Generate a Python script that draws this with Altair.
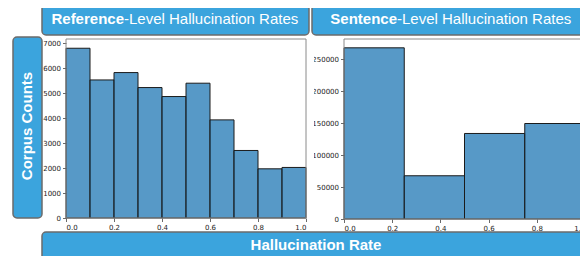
import altair as alt
import pandas as pd

# ---- data ----
ref_edges = [0.0, 0.1, 0.2, 0.3, 0.4, 0.5, 0.6, 0.7, 0.8, 0.9, 1.0]
ref_counts = [6800, 5530, 5825, 5225, 4865, 5400, 3930, 2705, 1970, 2025]
sent_edges = [0.0, 0.25, 0.5, 0.75, 1.0]
sent_counts = [268000, 67700, 133900, 149500]
x_ticks = [0.0, 0.2, 0.4, 0.6, 0.8, 1.0]
ref_y_ticks = [0, 1000, 2000, 3000, 4000, 5000, 6000, 7000]
sent_y_ticks = [0, 50000, 100000, 150000, 200000, 250000]

W, H = 572, 248
BOX_FILL = "#3ba4dd"
BOX_STROKE = "#6b6b6b"
TITLE_FONT = "Liberation Sans"
TICK_FONT = "DejaVu Sans"

ref_df = pd.DataFrame({"start": ref_edges[:-1], "end": ref_edges[1:], "count": ref_counts})
sent_df = pd.DataFrame({"start": sent_edges[:-1], "end": sent_edges[1:], "count": sent_counts})
one = pd.DataFrame({"k": [0]})


def axis_common(**kw):
    return alt.Axis(
        domain=False, grid=False, ticks=True, tickSize=3.5, tickColor="#444",
        tickWidth=0.8, labelFont=TICK_FONT, labelFontSize=7, labelColor="#222",
        labelPadding=2, title=None, **kw)


def hist(df, xr, yr, ydom, yticks):
    return alt.Chart(df).mark_bar(
        fill="#1f77b4", fillOpacity=0.75, stroke="#1b1b1b", strokeWidth=1
    ).encode(
        x=alt.X("start:Q",
                scale=alt.Scale(domain=[0, 1], range=xr, nice=False, zero=False,
                                padding=0),
                axis=axis_common(orient="bottom", values=x_ticks, format=".1f",
                                 offset=yr[0] - H)),
        x2="end:Q",
        y=alt.Y("count:Q",
                scale=alt.Scale(domain=ydom, range=yr, nice=False, padding=0),
                axis=axis_common(orient="left", values=yticks, format="d",
                                 offset=-xr[0])),
        y2=alt.datum(0),
    )


def box(x, x2, y, y2):
    return alt.Chart(one).mark_rect(
        fill=BOX_FILL, stroke=BOX_STROKE, strokeWidth=1.5, cornerRadius=4
    ).encode(x=alt.value(x), x2=alt.value(x2), y=alt.value(y), y2=alt.value(y2))


def frame(x, x2, y, y2):
    return alt.Chart(one).mark_rect(
        fillOpacity=0, stroke="#8a8a8a", strokeWidth=1
    ).encode(x=alt.value(x), x2=alt.value(x2), y=alt.value(y), y2=alt.value(y2))


def label(txt, x, y, align="center", bold=False, angle=0, baseline="alphabetic"):
    return alt.Chart(one).mark_text(
        text=txt, align=align, baseline=baseline, font=TITLE_FONT,
        fontWeight="bold" if bold else "normal", fontSize=15, color="white",
        angle=angle
    ).encode(x=alt.value(x), y=alt.value(y))


boxes = [
    box(34, 301, -3, 27),
    box(304, 577, -3, 27),
    box(5, 34, 29, 210),
    box(34, 600, 224, 270),
]

left_hist = hist(ref_df, [58, 298], [210, 31], [0, 7170], ref_y_ticks)
right_hist = hist(sent_df, [336, 577], [211, 31], [0, 281800], sent_y_ticks)

frames = [frame(58, 298, 31, 210), frame(336, 577, 31, 211)]

# the right panel's long tick labels are cut off at the panel's left edge
label_clip = alt.Chart(one).mark_rect(fill="white").encode(
    x=alt.value(299), x2=alt.value(306), y=alt.value(31), y2=alt.value(213))

texts = [
    label("Reference", 116, 16, align="right", bold=True),
    label("-Level Hallucination Rates", 116, 16, align="left"),
    label("Sentence", 389, 16, align="right", bold=True),
    label("-Level Hallucination Rates", 389, 16, align="left"),
    label("Hallucination Rate", 308, 242, bold=True),
    label("Corpus Counts", 19, 118, bold=True, angle=270, baseline="middle"),
]

chart = alt.layer(
    *boxes, left_hist, right_hist, *frames, label_clip, *texts
).resolve_scale(
    x="independent", y="independent"
).resolve_axis(
    x="independent", y="independent"
).properties(
    width=W, height=H, padding=0,
    autosize=alt.AutoSizeParams(type="none"),
    background="white",
).configure_view(stroke="transparent")

chart.save("out.html", embed_options={"renderer": "svg", "actions": False})
